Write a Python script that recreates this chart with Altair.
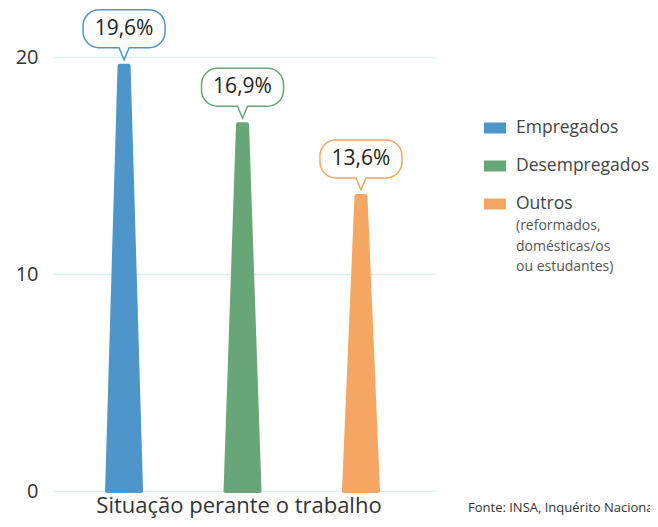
import altair as alt
import pandas as pd

categories = ["Empregados", "Desempregados", "Outros"]
values = [19.6, 16.9, 13.6]
value_labels = ["19,6%", "16,9%", "13,6%"]
colors = ["#4e95c9", "#69a677", "#f5a662"]
y_ticks = [0, 10, 20]
note_lines = ["(reformados,", "domésticas/os", "ou estudantes)"]
x_title = "Situação perante o trabalho"
source_text = "Fonte: INSA, Inquérito Nacional de Saúde"

FONT = "Open Sans"
BOTTOM_HW = 0.1435
TOP_HW = 0.038

rows = []
for i, (c, v) in enumerate(zip(categories, values)):
    rows.append({"cat": c, "y": 0.0, "xl": i - BOTTOM_HW, "xr": i + BOTTOM_HW})
    rows.append({"cat": c, "y": v, "xl": i - TOP_HW, "xr": i + TOP_HW})
bars = pd.DataFrame(rows)

pts = pd.DataFrame({
    "cat": categories,
    "pos": list(range(len(categories))),
    "value": values,
    "label": value_labels,
})

xscale = alt.Scale(domain=[-0.6, 2.625], nice=False, zero=False)
yscale = alt.Scale(domain=[0, 20], nice=False)
cscale = alt.Scale(domain=categories, range=colors)

k = 0.221
BUBBLE = (
    "M0,0 L-0.125,-0.3 H-0.625 "
    f"C{-0.625 - k},-0.3 -1.025,{-0.7 + k} -1.025,-0.7 "
    "V-0.85 "
    f"C-1.025,{-0.85 - k} {-0.625 - k},-1.25 -0.625,-1.25 "
    "H0.625 "
    f"C{0.625 + k},-1.25 1.025,{-0.85 - k} 1.025,-0.85 "
    "V-0.7 "
    f"C1.025,{-0.7 + k} {0.625 + k},-0.3 0.625,-0.3 "
    "H0.125 Z"
)
RECT = "M-1,-0.5H1V0.5H-1Z"

area = alt.Chart(bars).mark_area(
    orient="horizontal", strokeWidth=4, strokeJoin="round", opacity=1
).encode(
    y=alt.Y("y:Q", scale=yscale,
            axis=alt.Axis(values=y_ticks, title=None, domain=False, ticks=False,
                          labelFontSize=20, labelPadding=15, labelColor="#333",
                          labelFont=FONT, gridColor="#dbeeee", gridWidth=1.5)),
    x=alt.X("xl:Q", scale=xscale, stack=None, axis=None),
    x2="xr:Q",
    color=alt.Color("cat:N", scale=cscale,
                    legend=alt.Legend(title=None, orient="none", legendX=431, legendY=60,
                                      symbolType=RECT, symbolSize=484, symbolStrokeWidth=0,
                                      symbolOpacity=1, labelFontSize=17.5, labelFont=FONT,
                                      labelColor="#444", labelOffset=10, rowPadding=18,
                                      padding=0)),
    stroke=alt.Stroke("cat:N", scale=cscale, legend=None),
)

bubbles = alt.Chart(pts).mark_point(
    shape=BUBBLE, size=6400, fill="white", fillOpacity=1, strokeWidth=1.5,
    opacity=1, yOffset=-6
).encode(
    x=alt.X("pos:Q", scale=xscale, axis=None),
    y=alt.Y("value:Q", scale=yscale),
    stroke=alt.Stroke("cat:N", scale=cscale, legend=None),
)

texts = alt.Chart(pts).mark_text(
    yOffset=-37, fontSize=21, font=FONT, color="#222", baseline="middle"
).encode(
    x=alt.X("pos:Q", scale=xscale, axis=None),
    y=alt.Y("value:Q", scale=yscale),
    text="label:N",
)

note = alt.Chart(pd.DataFrame({"t": ["\n".join(note_lines)]})).mark_text(
    lineBreak="\n", align="left", baseline="alphabetic", fontSize=14,
    lineHeight=20.5, color="#555", font=FONT
).encode(x=alt.value(463), y=alt.value(173), text="t:N")

src = alt.Chart(pd.DataFrame({"t": [source_text]})).mark_text(
    align="left", baseline="middle", fontSize=13, color="#333", font=FONT
).encode(x=alt.value(415), y=alt.value(451), text="t:N")

title = alt.Chart(pd.DataFrame({"t": [x_title]})).mark_text(
    align="center", baseline="alphabetic", fontSize=22,
    color="#333", font=FONT
).encode(x=alt.value(186), y=alt.value(456), text="t:N")

chart = alt.layer(area, bubbles, texts, note, src, title).properties(
    width=382, height=434,
    background="white",
    autosize=alt.AutoSizeParams(type="none"),
    padding={"left": 45, "top": 49, "right": 215, "bottom": 28},
).configure_view(stroke=None).configure_axisX(grid=False)

chart.save("out.html", embed_options={"renderer": "svg", "actions": False})
